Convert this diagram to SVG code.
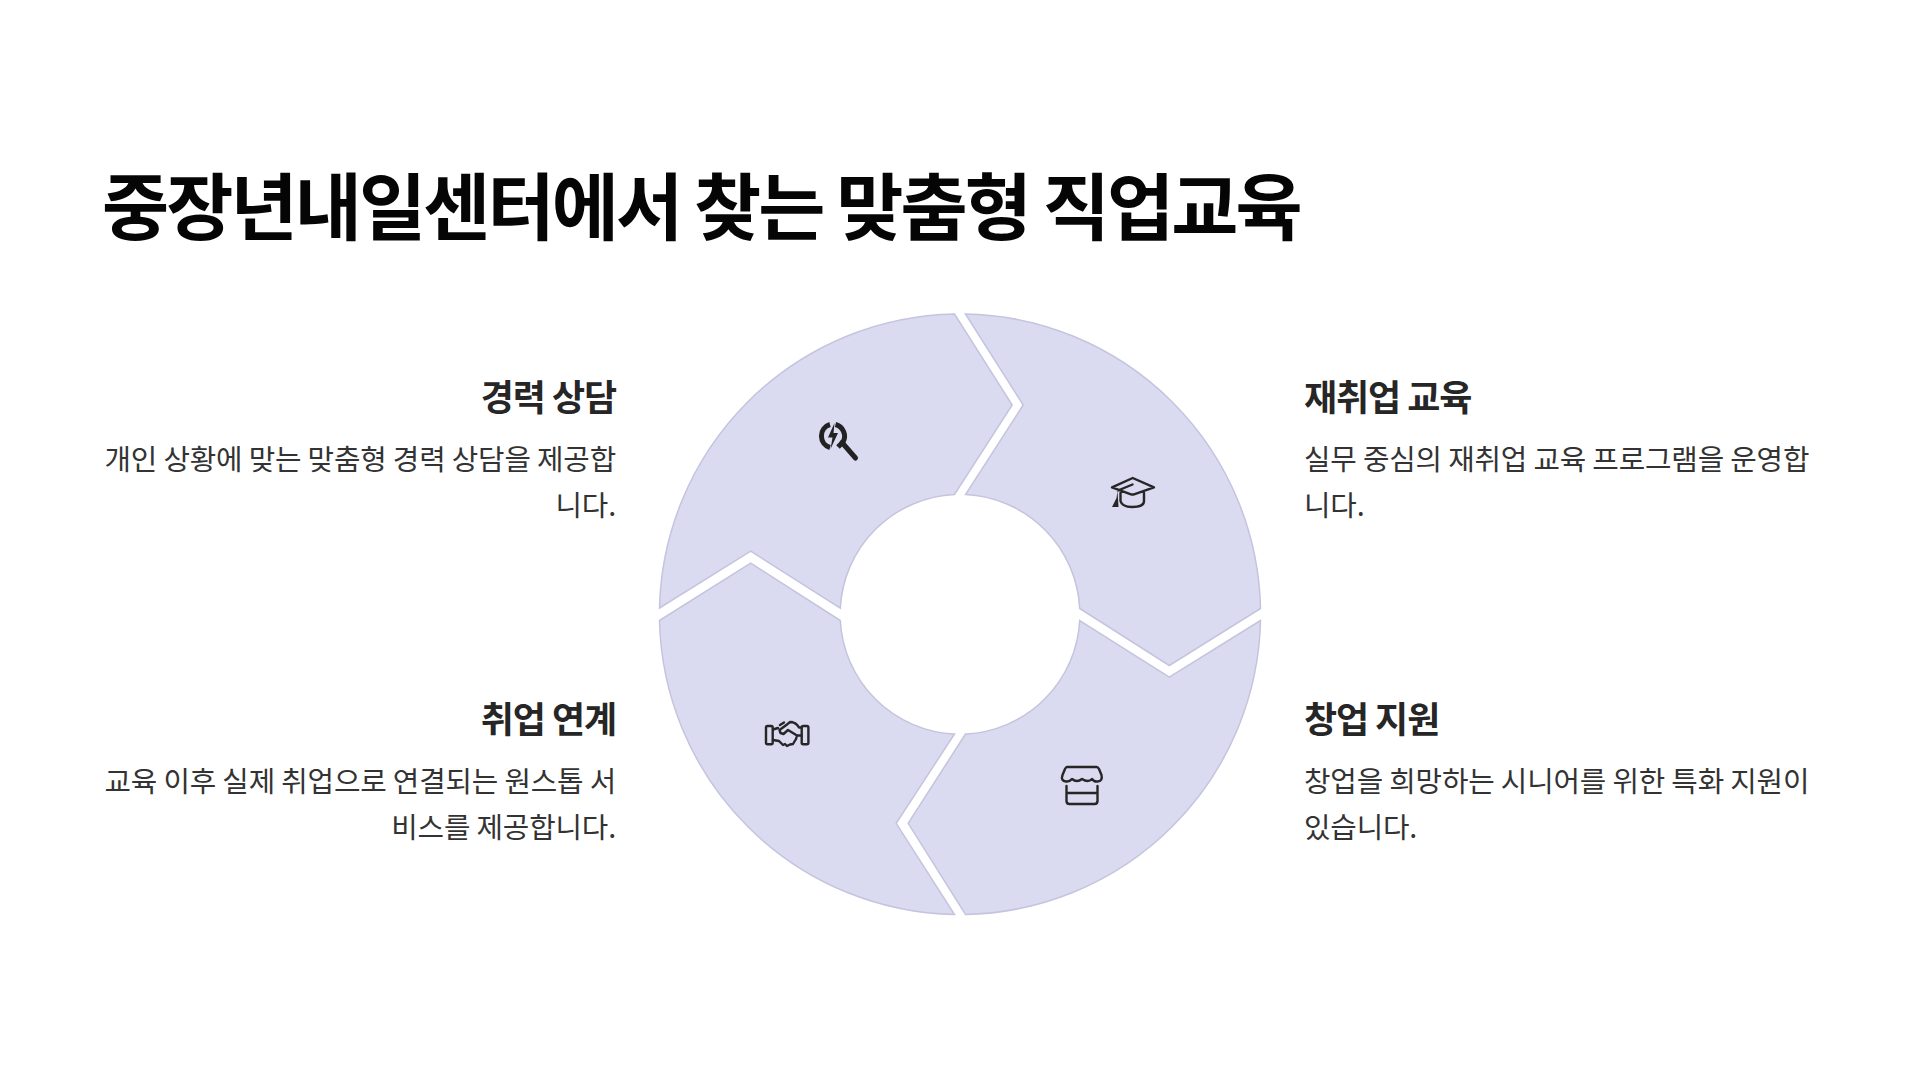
<svg xmlns="http://www.w3.org/2000/svg" width="1920" height="1080" viewBox="0 0 1920 1080">
<style>
text{font-family:"Noto Sans CJK KR","Noto Sans",sans-serif}
.title{font-size:73px;font-weight:700;fill:#050505;letter-spacing:-2.9px}
.h{font-size:36px;font-weight:700;fill:#262626;letter-spacing:-1.1px}
.b{font-size:28.800px;font-weight:400;fill:#333;letter-spacing:-.17px}
.r{text-anchor:end}
.seg{fill:#dadaf0;stroke:#c4c4de;stroke-width:1.500}
.ic{fill:none;stroke:#262626;stroke-width:2.400;stroke-linecap:round;stroke-linejoin:round}
</style>
<rect width="1920" height="1080" fill="#fff"/>
<text id="title" class="title" x="102" y="234">중장년내일센터에서 찾는 맞춤형 직업교육</text>
<g id="connectors"></g>
<g id="node-career">
<path class="seg" d="M659.500 608L750.700 551.200L840.300 608.200A120 120 0 0 1 954.500 494.500L1012.200 405L954.500 314A301 301 0 0 0 659.500 608Z"/>
<path d="M830 424.500A12 12 0 0 0 830 447.500M835.500 424.500A12 12 0 0 1 843 442L838 447" fill="none" stroke="#222" stroke-width="5"/>
<path d="M834.500 423L828 437.500H832.500L830.500 449L838 433H833.500Z" fill="#222"/>
<path d="M842 442.500L855.500 458" fill="none" stroke="#222" stroke-width="5" stroke-linecap="round"/>
<text class="h r" x="616" y="411">경력 상담</text>
<text class="b r" x="616" y="470">개인 상황에 맞는 맞춤형 경력 상담을 제공합</text>
<text class="b r" x="616" y="516">니다.</text>
</g>
<g id="node-education">
<path class="seg" d="M965.500 314L1023.200 405L965.500 494.500A120 120 0 0 1 1079.700 608.500L1169.300 665.500L1260.500 608.500A301 301 0 0 0 965.500 314Z"/>
<path class="ic" d="M1112 487.300L1132.700 478L1154 487.300L1134 494.300Q1132.700 494.800 1131 494.300ZM1118 490.500L1132.500 484.500M1120.500 493V501Q1122 507 1132 507Q1144 507 1144 501V493"/>
<path d="M1117.500 491L1116.500 498L1112 507H1118.500Z" fill="#262626"/>
<text class="h" x="1304" y="411">재취업 교육</text>
<text class="b" x="1304" y="470">실무 중심의 재취업 교육 프로그램을 운영합</text>
<text class="b" x="1304" y="516">니다.</text>
</g>
<g id="node-startup">
<path class="seg" d="M1260.500 620.500L1169.300 677.200L1079.700 620.500A120 120 0 0 1 965.500 734L908.200 823.300L965.500 914.500A301 301 0 0 0 1260.500 620.500Z"/>
<path class="ic" d="M1067 767H1096.500Q1098 767 1099 769L1101.500 775Q1103 781 1097.500 781.500Q1094 782 1092 779Q1088 783 1082 779Q1077 783 1072 779Q1069.500 782 1066 781.500Q1060.500 781 1062.500 775L1065 769Q1066 767 1067 767ZM1066.500 786V801Q1066.500 804 1069.500 804H1094.500Q1097.500 804 1097.500 801V786M1066.500 793H1097.500"/>
<text class="h" x="1304" y="733">창업 지원</text>
<text class="b" x="1304" y="792">창업을 희망하는 시니어를 위한 특화 지원이</text>
<text class="b" x="1304" y="838">있습니다.</text>
</g>
<g id="node-job">
<path class="seg" d="M954.500 734L896.200 823.300L954.500 914.500A301 301 0 0 1 659.500 620.500L750.700 563.200L840.300 620.500A120 120 0 0 0 954.500 734Z"/>
<rect class="ic" x="766" y="726" width="6.700" height="18.300" rx="1.500"/>
<rect class="ic" x="801.700" y="726" width="6.700" height="18.300" rx="1.500"/>
<path class="ic" d="M773 729.500L778 728M784 722.500L780 725M790 722Q796 722 799 727.500L801.500 727.500M801.500 735.500H797.500M773 740L779 741L783 745L785 744L787 746L790 744.500L793 744L796 739L797 735.500L788 730L783.500 734L780.500 733L779.500 730L787 724.500Q789 722 792 722"/>
<text class="h r" x="616" y="733">취업 연계</text>
<text class="b r" x="616" y="792">교육 이후 실제 취업으로 연결되는 원스톱 서</text>
<text class="b r" x="616" y="838">비스를 제공합니다.</text>
</g>
</svg>
